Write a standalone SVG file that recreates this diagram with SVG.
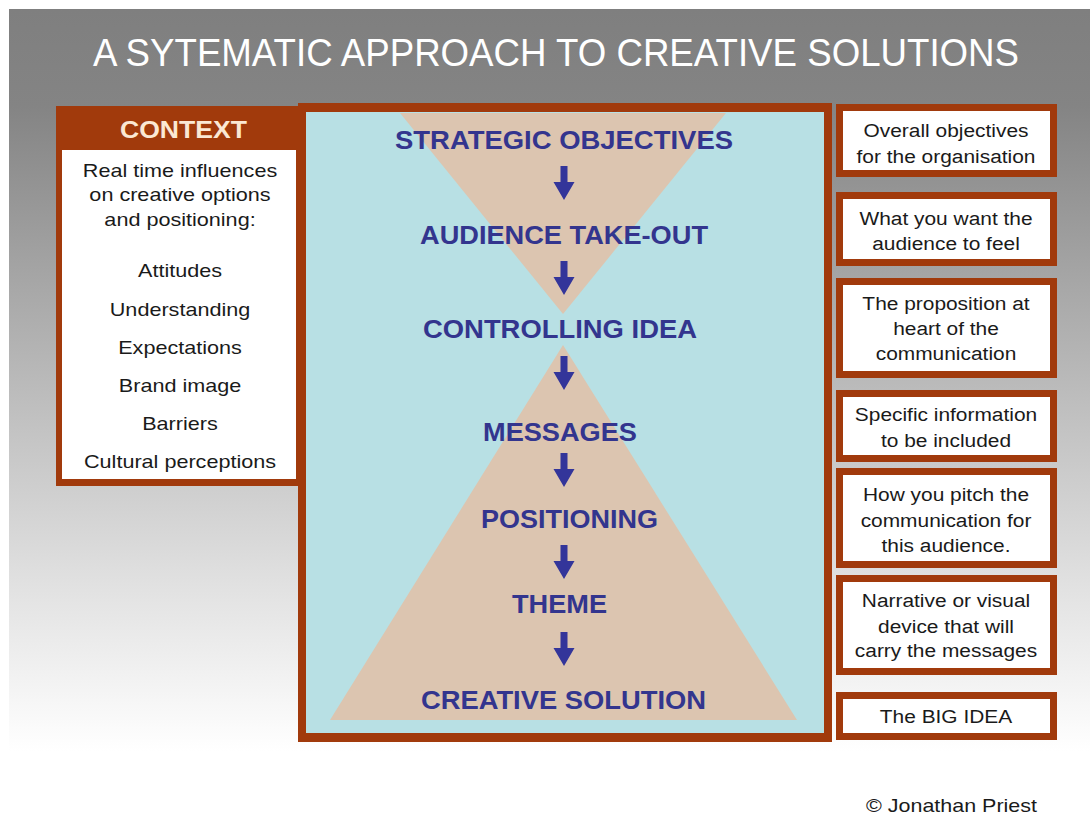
<svg xmlns="http://www.w3.org/2000/svg" width="1090" height="816" viewBox="0 0 1090 816">
  <defs>
    <linearGradient id="bg" x1="0" y1="9" x2="0" y2="816" gradientUnits="userSpaceOnUse">
      <stop offset="0" stop-color="#7f7f7f"/>
      <stop offset="0.12" stop-color="#848484"/>
      <stop offset="0.45" stop-color="#b8b8b8"/>
      <stop offset="0.72" stop-color="#e2e2e2"/>
      <stop offset="0.92" stop-color="#ffffff"/>
    </linearGradient>
    <path id="down" d="M-3.5,0 H3.5 V16 H10.5 L0,34 L-10.5,16 H-3.5 Z"/>
    <style>
      .title { font-family: "Liberation Sans", Arial, sans-serif; font-size: 38px; fill: #ffffff; }
      .stage { font-family: "Liberation Sans", Arial, sans-serif; font-size: 26px; font-weight: bold; fill: #33358e; text-anchor: middle; }
      .head { font-family: "Liberation Sans", Arial, sans-serif; font-size: 24px; font-weight: bold; fill: #fbe8d4; text-anchor: middle; }
      .ctx { font-family: "Liberation Sans", Arial, sans-serif; font-size: 18px; fill: #1a1a1a; text-anchor: middle; }
      .note { font-family: "Liberation Sans", Arial, sans-serif; font-size: 19px; fill: #1a1a1a; text-anchor: middle; }
      .brown { fill: #a13a0c; }
      .box { fill: #ffffff; stroke: #a13a0c; stroke-width: 7; }
      .arrow { fill: #33359a; }
    </style>
  </defs>

  <!-- page background -->
  <rect x="0" y="0" width="1090" height="816" fill="#ffffff"/>
  <rect x="9" y="9" width="1081" height="807" fill="url(#bg)"/>

  <text class="title" x="556" y="66" text-anchor="middle" textLength="926" lengthAdjust="spacingAndGlyphs">A SYTEMATIC APPROACH TO CREATIVE SOLUTIONS</text>

  <!-- context panel -->
  <g id="context">
    <rect class="brown" x="56" y="106" width="246" height="380"/>
    <rect x="62" y="150" width="234" height="329" fill="#ffffff"/>
    <text class="head" x="183.5" y="138" textLength="127" lengthAdjust="spacingAndGlyphs">CONTEXT</text>
    <g transform="translate(180,0) scale(1.2,1)">
      <text class="ctx" x="0" y="177">Real time influences</text>
      <text class="ctx" x="0" y="201">on creative options</text>
      <text class="ctx" x="0" y="226">and positioning:</text>
      <text class="ctx" x="0" y="277">Attitudes</text>
      <text class="ctx" x="0" y="316">Understanding</text>
      <text class="ctx" x="0" y="354">Expectations</text>
      <text class="ctx" x="0" y="392">Brand image</text>
      <text class="ctx" x="0" y="430">Barriers</text>
      <text class="ctx" x="0" y="468">Cultural perceptions</text>
    </g>
  </g>

  <!-- central funnel and pyramid -->
  <g id="process">
    <rect class="brown" x="298" y="103" width="534" height="639"/>
    <rect x="306" y="112" width="518" height="621" fill="#b8e0e4"/>
    <polygon points="400,113 726,113 563,314" fill="#dcc5b0"/>
    <polygon points="563,345 797,720 330,720" fill="#dcc5b0"/>
  </g>

  <g id="stage-objectives"><text class="stage" x="564" y="149" textLength="338" lengthAdjust="spacingAndGlyphs">STRATEGIC OBJECTIVES</text></g>
  <g id="stage-takeout"><text class="stage" x="564" y="244" textLength="288" lengthAdjust="spacingAndGlyphs">AUDIENCE TAKE-OUT</text></g>
  <g id="stage-controlling"><text class="stage" x="560" y="338" textLength="274" lengthAdjust="spacingAndGlyphs">CONTROLLING IDEA</text></g>
  <g id="stage-messages"><text class="stage" x="560" y="441" textLength="154" lengthAdjust="spacingAndGlyphs">MESSAGES</text></g>
  <g id="stage-positioning"><text class="stage" x="569.5" y="528" textLength="177" lengthAdjust="spacingAndGlyphs">POSITIONING</text></g>
  <g id="stage-theme"><text class="stage" x="559.5" y="613" textLength="95" lengthAdjust="spacingAndGlyphs">THEME</text></g>
  <g id="stage-solution"><text class="stage" x="563.5" y="709" textLength="285" lengthAdjust="spacingAndGlyphs">CREATIVE SOLUTION</text></g>

  <!-- flow arrows between stages -->
  <g id="connectors" class="arrow">
    <use href="#down" x="564" y="166"/>
    <use href="#down" x="564" y="261"/>
    <use href="#down" x="564" y="356"/>
    <use href="#down" x="564" y="453"/>
    <use href="#down" x="564" y="545"/>
    <use href="#down" x="564" y="632"/>
  </g>

  <!-- explanatory notes -->
  <g id="note-objectives">
    <rect class="box" x="839.5" y="107.5" width="214" height="66"/>
    <g transform="translate(946,0) scale(1.1,1)">
      <text class="note" x="0" y="137">Overall objectives</text>
      <text class="note" x="0" y="163">for the organisation</text>
    </g>
  </g>
  <g id="note-takeout">
    <rect class="box" x="839.5" y="195.5" width="214" height="67"/>
    <g transform="translate(946,0) scale(1.1,1)">
      <text class="note" x="0" y="225">What you want the</text>
      <text class="note" x="0" y="250">audience to feel</text>
    </g>
  </g>
  <g id="note-controlling">
    <rect class="box" x="839.5" y="281.5" width="214" height="93"/>
    <g transform="translate(946,0) scale(1.1,1)">
      <text class="note" x="0" y="310">The proposition at</text>
      <text class="note" x="0" y="335">heart of the</text>
      <text class="note" x="0" y="360">communication</text>
    </g>
  </g>
  <g id="note-messages">
    <rect class="box" x="839.5" y="393.5" width="214" height="65"/>
    <g transform="translate(946,0) scale(1.1,1)">
      <text class="note" x="0" y="421">Specific information</text>
      <text class="note" x="0" y="447">to be included</text>
    </g>
  </g>
  <g id="note-positioning">
    <rect class="box" x="839.5" y="471.5" width="214" height="93"/>
    <g transform="translate(946,0) scale(1.1,1)">
      <text class="note" x="0" y="501">How you pitch the</text>
      <text class="note" x="0" y="527">communication for</text>
      <text class="note" x="0" y="552">this audience.</text>
    </g>
  </g>
  <g id="note-theme">
    <rect class="box" x="839.5" y="578.5" width="214" height="93"/>
    <g transform="translate(946,0) scale(1.1,1)">
      <text class="note" x="0" y="607">Narrative or visual</text>
      <text class="note" x="0" y="633">device that will</text>
      <text class="note" x="0" y="657">carry the messages</text>
    </g>
  </g>
  <g id="note-solution">
    <rect class="box" x="839.5" y="695.5" width="214" height="41"/>
    <g transform="translate(946,0) scale(1.1,1)">
      <text class="note" x="0" y="723">The BIG IDEA</text>
    </g>
  </g>

  <text class="note" x="951.5" y="812" textLength="171" lengthAdjust="spacingAndGlyphs">© Jonathan Priest</text>
</svg>
